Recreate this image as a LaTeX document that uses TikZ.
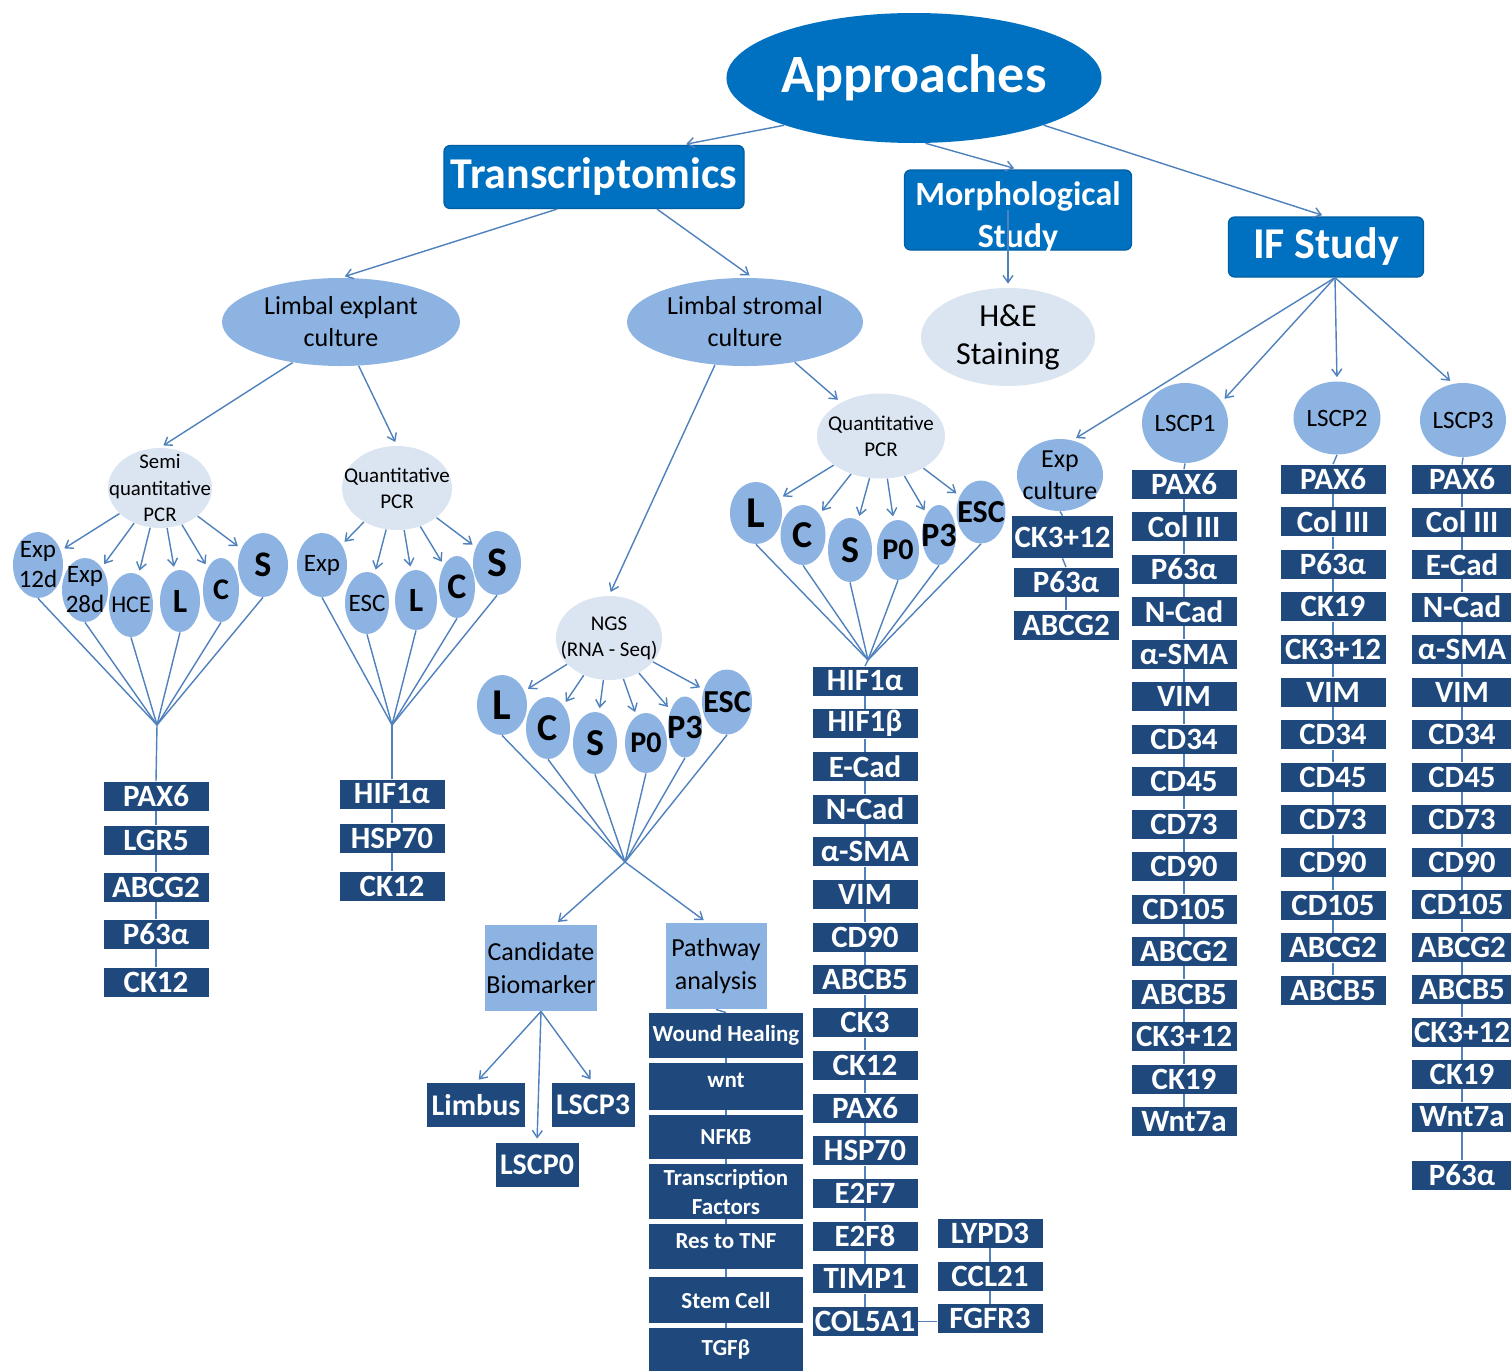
\documentclass[tikz,border=0pt]{standalone}
\usepackage{fontspec}
\setmainfont{Carlito}
\usetikzlibrary{shapes.geometric,arrows.meta}
\definecolor{topblue}{HTML}{0070C0}
\definecolor{midblue}{HTML}{8DB3E2}
\definecolor{paleblue}{HTML}{DBE5F1}
\definecolor{navy}{HTML}{1F497D}
\definecolor{linec}{HTML}{4F81BD}
\tikzset{
  head/.style={fill=topblue, draw=topblue!85!black, line width=0.6pt, rounded corners=3pt,
    text=white, inner sep=0pt, align=center},
  mk/.style={fill=navy, text=white, inner sep=0pt, minimum width=52.5pt, minimum height=14.5pt,
    font=\bfseries\fontsize{15.5}{17}\selectfont},
  tag/.style={fill=navy, text=white, inner sep=0pt, minimum height=22pt,
    font=\bfseries\fontsize{15}{17}\selectfont},
  pw/.style={fill=navy, text=white, inner sep=0pt, minimum width=77pt, align=center,
    font=\bfseries\fontsize{11.5}{14.5}\selectfont},
  cbox/.style={fill=midblue, inner sep=0pt, align=center, minimum height=43pt,
    font=\fontsize{13}{16.5}\selectfont},
  blob/.style={ellipse, fill=midblue, inner sep=0pt},
  pale/.style={ellipse, fill=paleblue, inner sep=0pt},
  lt/.style={align=center, text=black, inner sep=0pt},
  ln/.style={draw=linec, line width=0.7pt},
  arr/.style={ln, -{Straight Barb[length=3.5pt,width=5pt]}, shorten >=2pt}
}
\begin{document}
\begin{tikzpicture}[x=0.5pt,y=-0.5pt]
\path[use as bounding box, fill=white] (0,0) rectangle (1511,1371);

% top row
\node[ellipse, fill=topblue, inner sep=0pt, minimum width=187pt, minimum height=65pt, text=white,
  font=\bfseries\fontsize{27}{30}\selectfont] (app) at (914,78) {Approaches};
\node[head, minimum width=150pt, minimum height=31.5pt, font=\bfseries\fontsize{22}{24}\selectfont]
  (trans) at (594,177) {Transcriptomics};
\node[head, minimum width=113.5pt, minimum height=40pt,
  label={[lt, text=white, yshift=-3.5pt, font=\bfseries\fontsize{17}{21}\selectfont]center:{Morphological\\Study}}]
  (morph) at (1018,210) {};
\node[head, minimum width=97.5pt, minimum height=30pt, font=\bfseries\fontsize{22}{24}\selectfont]
  (ifs) at (1326,247) {IF Study};
\draw[arr] (app.200) -- (trans.20);
\draw[arr] (app.-80) -- (morph.north);
\draw[arr] (app.-20) -- (ifs.north);

% second row
\node[blob, minimum width=119pt, minimum height=44pt,
  label={[lt, font=\fontsize{13}{16}\selectfont]center:{Limbal explant\\culture}}] (lex) at (341,322) {};
\node[blob, minimum width=118pt, minimum height=44pt,
  label={[lt, font=\fontsize{13}{16}\selectfont]center:{Limbal stromal\\culture}}] (lst) at (745,322) {};
\node[pale, minimum width=87pt, minimum height=49pt,
  label={[lt, font=\fontsize{16}{19}\selectfont]center:{H\&E\\Staining}}] (he) at (1008,337) {};
\draw[arr] (trans.-139) -- (lex.north);
\draw[arr] (trans.-27) -- (lst.80);
\draw[arr] (he.north |- morph.center) -- (he.north);

% semi quantitative PCR
\node[pale, minimum width=52pt, minimum height=40pt,
  label={[lt, font=\fontsize{10.4}{13.25}\selectfont]center:{Semi\\quantitative\\PCR}}] (semi) at (160,488) {};
\draw[arr] (lex.-140) -- (semi.north);
\foreach \n/\x/\y/\w/\h/\fs/\lbl in {1/38/565/50/66/12.5/{Exp\\12d}, 2/85/590/46/64/12.5/{Exp\\28d},
    3/131/605/44/64/12/HCE, 4/180/601/40/62/17/{\bfseries L}, 5/221/590/36/64/15/{\bfseries C},
    6/263/565/50/64/18/{\bfseries S}}
  \node[blob, minimum width=\w*0.5pt, minimum height=\h*0.5pt,
    label={[lt, font=\fontsize{\fs}{15}\selectfont]center:{\lbl}}] (s\n) at (\x,\y) {};
\coordinate (cs) at (157,725);
\foreach \n in {1,...,6} {
  \draw[arr] (semi) -- (s\n);
  \draw[ln] (s\n.south) -- (cs);
}
\foreach \lbl/\y [count=\i] in {PAX6/796, LGR5/840, ABCG2/887, P63α/934, CK12/982}
  \node[mk] (a\i) at (156,\y) {\lbl};
\draw[ln] (cs) -- (a1.north);
\foreach \i [count=\j] in {2,...,5} \draw[ln] (a\j.south) -- (a\i.north);

% quantitative PCR (explant)
\node[pale, minimum width=55pt, minimum height=42pt,
  label={[lt, font=\fontsize{10.5}{13}\selectfont]center:{Quantitative\\PCR}}] (qpl) at (397,488) {};
\draw[arr] (lex.-68) -- (qpl.north);
\foreach \n/\x/\y/\w/\h/\fs/\lbl in {1/322/565/50/64/12.5/Exp, 2/367/603/44/62/12.5/ESC,
    3/416/600/42/60/17/{\bfseries L}, 4/457/587/36/62/18/{\bfseries C}, 5/497/563/48/64/21/{\bfseries S}}
  \node[blob, minimum width=\w*0.5pt, minimum height=\h*0.5pt,
    label={[lt, font=\fontsize{\fs}{15}\selectfont]center:{\lbl}}] (k\n) at (\x,\y) {};
\coordinate (cq) at (392,725);
\foreach \n in {1,...,5} {
  \draw[arr] (qpl) -- (k\n);
  \draw[ln] (k\n.south) -- (cq);
}
\foreach \lbl/\y [count=\i] in {HIF1α/794, HSP70/838, CK12/886}
  \node[mk] (b\i) at (392,\y) {\lbl};
\draw[ln] (cq) -- (b1.north);
\foreach \i [count=\j] in {2,3} \draw[ln] (b\j.south) -- (b\i.north);

% NGS
\node[pale, minimum width=53pt, minimum height=42pt,
  label={[lt, font=\fontsize{10.5}{13}\selectfont]center:{NGS\\(RNA - Seq)}}] (ngs) at (609,638) {};
\draw[arr] (lst.-125) -- (ngs.north);
\foreach \n/\x/\y/\w/\h/\fs/\lbl in {1/502/705/50/60/22/L, 2/548/728/44/62/19/C, 3/595/743/44/62/19/S,
    4/646/743/42/60/15/P0, 5/685/727/34/61/17/P3, 6/727/702/50/65/16/ESC}
  \node[blob, minimum width=\w*0.5pt, minimum height=\h*0.5pt,
    label={[lt, font=\bfseries\fontsize{\fs}{15}\selectfont]center:{\lbl}}] (n\n) at (\x,\y) {};
\coordinate (cn) at (625,862);
\foreach \n in {1,...,6} {
  \draw[arr] (ngs) -- (n\n);
  \draw[ln] (n\n.south) -- (cn);
}
\node[cbox, minimum width=56pt] (cand) at (541,968) {Candidate\\Biomarker};
\node[cbox, minimum width=50.5pt] (path) at (716,966) {Pathway\\analysis};
\draw[arr] (cn) -- ([xshift=7pt]cand.north);
\draw[arr] (cn) -- ([xshift=-4.5pt]path.north);
\node[tag, minimum width=49pt] (lim) at (476,1105) {Limbus};
\node[tag, minimum width=41.5pt] (cl3) at (593,1105) {LSCP3};
\node[tag, minimum width=41.5pt] (cl0) at (537,1165) {LSCP0};
\draw[arr] (cand.south) -- (lim.north);
\draw[arr] (cand.south) -- (cl0.north);
\draw[arr] (cand.south) -- (cl3.north);
\foreach \lbl/\y/\h [count=\i] in {Wound Healing/1035.5/45, {\raisebox{6.5pt}{wnt}}/1086.5/47,
    NFKB/1137/44, {Transcription\\Factors}/1191.5/55, {\raisebox{5.5pt}{Res to TNF}}/1246.5/45,
    Stem Cell/1300/46, TGFβ/1349.5/43}
  \node[pw, minimum height=\h*0.5pt] (w\i) at (726,\y) {\lbl};
\draw[ln] (path.south) -- (w1.north);
\foreach \i [count=\j] in {2,...,7} \draw[ln] (w\j.south) -- (w\i.north);

% quantitative PCR (stromal)
\node[pale, minimum width=64pt, minimum height=42.5pt,
  label={[lt, font=\fontsize{10.5}{13}\selectfont]center:{Quantitative\\PCR}}] (qpr) at (881,436) {};
\draw[arr] (lst.-39) -- (qpr.140);
\foreach \n/\x/\y/\w/\h/\fs/\lbl in {1/756/513/52/62/22/L, 2/803/535/45/60/19/C, 3/850/550/44/64/19/S,
    4/898/550/42/60/15/P0, 5/939/535/34/60/17/P3, 6/981/512/49/63/16/ESC}
  \node[blob, minimum width=\w*0.5pt, minimum height=\h*0.5pt,
    label={[lt, font=\bfseries\fontsize{\fs}{15}\selectfont]center:{\lbl}}] (r\n) at (\x,\y) {};
\coordinate (cr) at (868,660);
\foreach \n in {1,...,6} {
  \draw[arr] (qpr) -- (r\n);
  \draw[ln] (r\n.south) -- (cr);
}
\foreach \lbl [count=\i] in {HIF1α, HIF1β, E-Cad, N-Cad, α-SMA, VIM, CD90, ABCB5, CK3, CK12,
    PAX6, HSP70, E2F7, E2F8, TIMP1, COL5A1}
  \node[mk] (h\i) at (865,{681+42.7*(\i-1)}) {\lbl};
\draw[ln] (cr) -- (h1.north);
\foreach \i [count=\j] in {2,...,16} \draw[ln] (h\j.south) -- (h\i.north);
\foreach \lbl/\y [count=\i] in {LYPD3/1233, CCL21/1276.5, FGFR3/1318.5}
  \node[mk] (f\i) at (990,\y) {\lbl};
\draw[ln] (f1.south) -- (f2.north);
\draw[ln] (f2.south) -- (f3.north);
\draw[ln] (h16.east) -- (h16.east -| f3.west);

% IF study
\coordinate (ifb) at ([xshift=4.5pt]ifs.south);
\node[blob, minimum width=43pt, minimum height=36pt,
  label={[lt, font=\fontsize{13}{16}\selectfont]center:{Exp\\culture}}] (expc) at (1060,475) {};
\node[blob, minimum width=43pt, minimum height=40pt,
  label={[lt, font=\fontsize{12.5}{15}\selectfont]center:LSCP1}] (lscp1) at (1185,423) {};
\node[blob, minimum width=43.5pt, minimum height=36.5pt,
  label={[lt, font=\fontsize{12.5}{15}\selectfont]center:LSCP2}] (lscp2) at (1337,418) {};
\node[blob, minimum width=43pt, minimum height=37pt,
  label={[lt, font=\fontsize{12.5}{15}\selectfont]center:LSCP3}] (lscp3) at (1463,420) {};
\draw[arr] (ifb) -- (expc.70);
\draw[arr] (ifb) -- (lscp1.30);
\draw[arr] (ifb) -- (lscp2.north);
\draw[arr] (ifb) -- (lscp3.105);

\node[mk, minimum width=50.5pt, minimum height=21pt] (e1) at (1062.5,537) {CK3+12};
\node[mk] (e2) at (1066,582) {P63α};
\node[mk] (e3) at (1066,625) {ABCG2};
\draw[ln] (expc.south) -- (e1.north);
\draw[ln] (e1.south) -- (e2.north);
\draw[ln] (e2.south) -- (e3.north);

\foreach \lbl [count=\i] in {PAX6, Col III, P63α, N-Cad, α-SMA, VIM, CD34, CD45, CD73, CD90,
    CD105, ABCG2, ABCB5, CK3+12, CK19, Wnt7a}
  \node[mk] (c1-\i) at (1184,{484+42.5*(\i-1)}) {\lbl};
\draw[ln] (lscp1.south) -- (c1-1.north);
\foreach \i [count=\j] in {2,...,16} \draw[ln] (c1-\j.south) -- (c1-\i.north);

\foreach \lbl [count=\i] in {PAX6, Col III, P63α, CK19, CK3+12, VIM, CD34, CD45, CD73, CD90,
    CD105, ABCG2, ABCB5}
  \node[mk] (c2-\i) at (1333,{479+42.6*(\i-1)}) {\lbl};
\draw[ln] (lscp2.south) -- (c2-1.north);
\foreach \i [count=\j] in {2,...,13} \draw[ln] (c2-\j.south) -- (c2-\i.north);

\foreach \lbl [count=\i] in {PAX6, Col III, E-Cad, N-Cad, α-SMA, VIM, CD34, CD45, CD73, CD90,
    CD105, ABCG2, ABCB5, CK3+12, CK19, Wnt7a}
  \node[mk, minimum width=50pt] (c3-\i) at (1462,{479.5+42.5*(\i-1)}) {\lbl};
\node[mk, minimum width=50pt] (c3-17) at (1462,1175) {P63α};
\draw[ln] (lscp3.south) -- (c3-1.north);
\foreach \i [count=\j] in {2,...,17} \draw[ln] (c3-\j.south) -- (c3-\i.north);
\end{tikzpicture}
\end{document}
